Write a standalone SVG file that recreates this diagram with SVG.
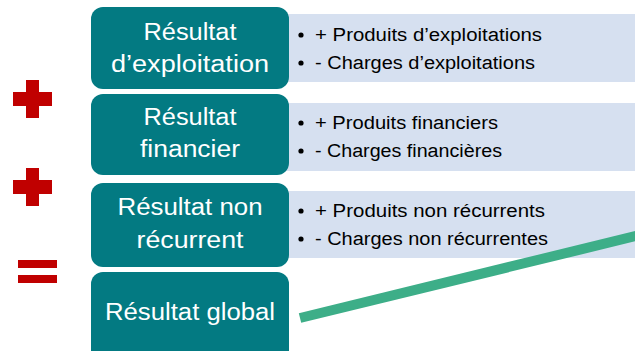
<svg xmlns="http://www.w3.org/2000/svg" width="635" height="351" viewBox="0 0 635 351">
<style>
.box{fill:#037A82;}
.panel{fill:#D6E0F0;}
.t{font-family:"Liberation Sans",Arial,sans-serif;font-size:23px;fill:#FFFFFF;text-anchor:middle;}
.b{font-family:"Liberation Sans",Arial,sans-serif;font-size:18px;fill:#000000;}
.op{fill:#C00000;}
</style>
<rect width="635" height="351" fill="#FFFFFF"/>
<g id="op-plus-1" class="op"><rect x="13" y="92" width="39" height="14"/><rect x="26" y="80" width="13" height="38"/></g>
<g id="op-plus-2" class="op"><rect x="13" y="180" width="39" height="14"/><rect x="26" y="168" width="13" height="38"/></g>
<g id="op-equals" class="op"><rect x="18" y="260" width="39" height="8"/><rect x="18" y="275" width="39" height="8"/></g>
<g id="detail-exploitation">
<rect class="panel" x="286" y="14" width="349" height="68"/>
<circle cx="301" cy="35" r="2.6"/><circle cx="301" cy="63" r="2.6"/>
<text class="b" x="315" y="41" textLength="227" lengthAdjust="spacingAndGlyphs">+ Produits d’exploitations</text>
<text class="b" x="315" y="69" textLength="220" lengthAdjust="spacingAndGlyphs">- Charges d’exploitations</text>
</g>
<g id="detail-financier">
<rect class="panel" x="286" y="103" width="349" height="68"/>
<circle cx="301" cy="123" r="2.6"/><circle cx="301" cy="151" r="2.6"/>
<text class="b" x="315" y="129" textLength="183" lengthAdjust="spacingAndGlyphs">+ Produits financiers</text>
<text class="b" x="315" y="157" textLength="187" lengthAdjust="spacingAndGlyphs">- Charges financières</text>
</g>
<g id="detail-non-recurrent">
<rect class="panel" x="286" y="191" width="349" height="67"/>
<circle cx="301" cy="211" r="2.6"/><circle cx="301" cy="239" r="2.6"/>
<text class="b" x="315" y="217" textLength="230" lengthAdjust="spacingAndGlyphs">+ Produits non récurrents</text>
<text class="b" x="315" y="245" textLength="233" lengthAdjust="spacingAndGlyphs">- Charges non récurrentes</text>
</g>
<g id="node-exploitation">
<rect class="box" x="91" y="7" width="198" height="82" rx="12"/>
<text class="t" x="190" y="40" textLength="93" lengthAdjust="spacingAndGlyphs">Résultat</text>
<text class="t" x="190" y="72" textLength="158" lengthAdjust="spacingAndGlyphs">d’exploitation</text>
</g>
<g id="node-financier">
<rect class="box" x="91" y="94" width="198" height="81" rx="12"/>
<text class="t" x="190" y="125" textLength="93" lengthAdjust="spacingAndGlyphs">Résultat</text>
<text class="t" x="190" y="157" textLength="100" lengthAdjust="spacingAndGlyphs">financier</text>
</g>
<g id="node-non-recurrent">
<rect class="box" x="91" y="183" width="198" height="84" rx="12"/>
<text class="t" x="190" y="215" textLength="145" lengthAdjust="spacingAndGlyphs">Résultat non</text>
<text class="t" x="190" y="248" textLength="107" lengthAdjust="spacingAndGlyphs">récurrent</text>
</g>
<g id="node-global">
<rect class="box" x="91" y="272" width="198" height="90" rx="12"/>
<text class="t" x="190" y="320" textLength="170" lengthAdjust="spacingAndGlyphs">Résultat global</text>
</g>
<g id="connectors">
<line x1="300" y1="318" x2="640" y2="235" stroke="#3DAE88" stroke-width="10"/>
</g>
</svg>
